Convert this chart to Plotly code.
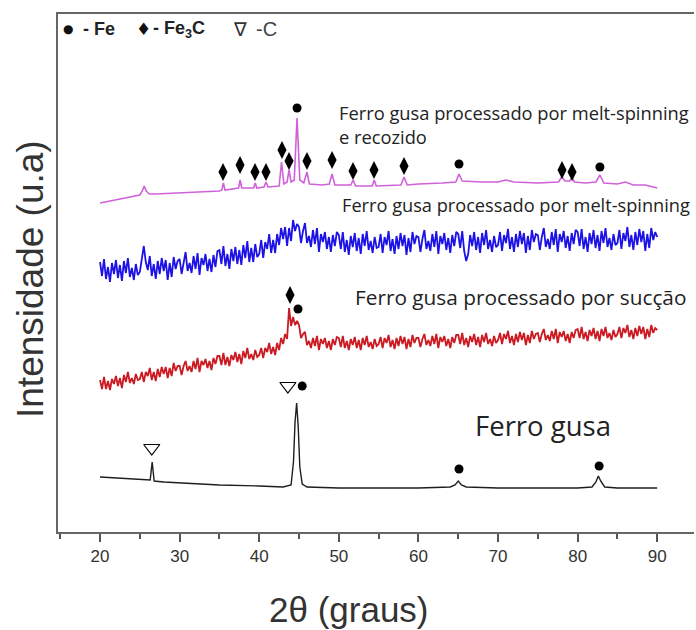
import numpy as np
import plotly.graph_objects as go

# ---------------- data (2θ in degrees, intensity in arbitrary units) ----------------
black_x = [20, 22, 24, 26, 26.3, 26.55, 26.8, 28, 30, 35, 40, 43, 44.0, 44.3, 44.5, 44.7, 44.9, 45.1, 45.4, 46,
           50, 55, 60, 64, 64.6, 65.0, 65.4, 66, 70, 75, 80, 81.8, 82.3, 82.6, 82.9, 83.4, 85, 90]
black_y = [55, 54, 53, 52, 52, 70, 51, 50, 49, 47, 46, 45, 47, 70, 110, 129, 105, 65, 48, 45,
           44, 44, 44, 45, 47, 51, 47, 45, 44, 44, 44, 45, 50, 56, 51, 45, 44, 44]

mag_x = [20, 22, 24, 25, 25.3, 25.55, 25.8, 26.2, 27, 30, 33, 35, 35.3, 35.5, 35.7, 37, 37.4, 37.6, 37.8,
         39.3, 39.5, 39.7, 40.6, 40.85, 41.1, 42.5, 42.8, 43.1, 43.5, 43.75, 44.0, 44.4, 44.75, 45.1,
         45.6, 46.0, 46.3, 48, 48.8, 49.15, 49.5, 51.5, 51.8, 52.1, 54.2, 54.45, 54.7, 57.8, 58.2, 58.6,
         60, 63, 64.7, 65.1, 65.5, 68, 70, 71, 72, 75, 77.6, 78.0, 78.4, 79.0, 79.3, 79.6, 81, 82.3,
         82.8, 83.3, 85, 86, 87, 88.5, 90]
mag_y = [329, 332, 335, 337, 341, 346, 341, 338, 338, 339, 340, 341, 342, 349, 342, 343, 344, 352, 344,
         344, 349, 344, 345, 350, 345, 346, 370, 348, 350, 362, 350, 352, 414, 352,
         349, 360, 348, 347, 348, 358, 347, 347, 352, 346, 346, 352, 346, 347, 355, 347,
         348, 349, 350, 358, 351, 350, 350, 352, 350, 349, 350, 355, 351, 351, 354, 350, 349, 350,
         357, 349, 348, 350, 347, 347, 344]

noisy_x = list(np.round(np.arange(20, 90.001, 0.25), 2))

blue_y = [
    270, 256, 273, 253, 265, 250, 269, 258, 272, 254, 267, 251, 271, 259, 274, 255, 264, 252, 268, 257,
    260, 273, 286, 270, 262, 276, 256, 268, 253, 271, 258, 274, 261, 272, 252, 269, 255, 275, 263, 271,
    273, 258, 271, 280, 261, 269, 259, 276, 263, 279, 257, 274, 267, 278, 261, 273, 260, 277, 265, 281,
    282, 268, 286, 266, 278, 263, 283, 271, 285, 268, 282, 267, 287, 274, 291, 270, 284, 270, 288, 275,
    278, 292, 274, 290, 283, 298, 279, 292, 279, 298, 287, 304, 293, 305, 286, 304, 291, 312, 301, 308,
    305, 289, 301, 309, 289, 296, 285, 302, 288, 304, 280, 298, 290, 300, 283, 295, 280, 297, 286, 300,
    297, 283, 300, 280, 292, 277, 296, 285, 299, 281, 294, 278, 298, 286, 301, 282, 291, 279, 295, 284,
    285, 298, 279, 295, 287, 301, 281, 293, 278, 296, 283, 299, 286, 297, 277, 294, 280, 300, 288, 296,
    295, 280, 293, 302, 283, 291, 281, 298, 285, 301, 278, 296, 288, 299, 282, 294, 279, 297, 286, 300,
    298, 284, 301, 281, 271, 278, 297, 286, 300, 282, 295, 279, 299, 287, 302, 283, 292, 280, 296, 285,
    287, 300, 281, 297, 289, 303, 283, 295, 280, 298, 285, 301, 288, 299, 279, 296, 282, 302, 290, 298,
    297, 282, 295, 304, 285, 293, 283, 300, 287, 303, 280, 298, 290, 301, 284, 296, 281, 299, 288, 302,
    300, 286, 303, 283, 295, 280, 299, 288, 302, 284, 297, 281, 301, 289, 304, 285, 294, 282, 298, 287,
    289, 302, 283, 299, 291, 305, 285, 297, 282, 300, 287, 303, 290, 301, 281, 298, 284, 304, 292, 300,
    295]

red_y = [
    152, 143, 155, 143, 151, 142, 153, 148, 156, 146, 154, 144, 157, 150, 160, 149, 154, 148, 158, 152,
    153, 160, 150, 160, 156, 164, 152, 160, 151, 163, 155, 165, 158, 165, 154, 164, 156, 169, 161, 166,
    166, 157, 166, 171, 161, 166, 160, 171, 163, 174, 160, 171, 167, 173, 164, 171, 162, 174, 168, 176,
    176, 167, 179, 167, 175, 166, 177, 172, 180, 170, 178, 168, 181, 174, 184, 173, 178, 172, 182, 175,
    177, 184, 174, 184, 180, 189, 178, 185, 177, 189, 182, 194, 188, 198, 193, 224, 206, 215, 207, 211,
    207, 194, 198, 200, 187, 191, 184, 194, 186, 196, 182, 193, 188, 194, 184, 191, 182, 193, 187, 195,
    194, 185, 196, 184, 191, 182, 193, 187, 195, 184, 192, 182, 194, 187, 196, 185, 190, 183, 193, 186,
    188, 195, 184, 194, 189, 197, 185, 192, 183, 194, 186, 196, 188, 195, 183, 193, 185, 197, 189, 194,
    194, 185, 193, 198, 187, 192, 186, 196, 188, 198, 184, 195, 190, 196, 186, 193, 184, 195, 189, 197,
    197, 188, 199, 187, 194, 185, 196, 190, 198, 187, 195, 185, 197, 190, 199, 188, 193, 186, 196, 189,
    192, 199, 188, 198, 193, 201, 189, 196, 187, 198, 190, 200, 192, 199, 187, 197, 189, 201, 193, 198,
    199, 190, 198, 203, 192, 197, 191, 201, 193, 203, 189, 200, 195, 201, 191, 198, 189, 200, 194, 202,
    203, 194, 205, 193, 200, 191, 202, 196, 204, 193, 201, 191, 203, 196, 205, 194, 199, 192, 202, 195,
    198, 205, 194, 204, 199, 207, 195, 202, 193, 204, 196, 206, 198, 205, 193, 203, 195, 207, 199, 204,
    202]

# phase markers
fe_x = [45.4, 65.1, 82.7, 44.87, 44.75, 65.1, 82.8]
fe_y = [146, 63, 66, 223, 424, 368, 365]
fe3c_x = [35.45, 37.59, 39.47, 40.85, 42.86, 43.74, 46.0, 49.15, 51.78, 54.42, 58.19, 78.04, 79.30, 43.87]
fe3c_y = [360, 367, 360, 360, 382, 371, 371, 372, 361, 362, 366, 362, 360, 237]
c_x = [26.5, 43.6]
c_y = [84, 146]

x_ticks = [20, 30, 40, 50, 60, 70, 80, 90]

# ---------------- figure ----------------
fig = go.Figure()
fig.add_trace(go.Scatter(x=black_x, y=black_y, mode="lines", line=dict(color="#1e1e1e", width=1.4)))
fig.add_trace(go.Scatter(x=noisy_x, y=red_y, mode="lines", line=dict(color="#cc1a22", width=1.8)))
fig.add_trace(go.Scatter(x=noisy_x, y=blue_y, mode="lines", line=dict(color="#1d12e6", width=1.8)))
fig.add_trace(go.Scatter(x=mag_x, y=mag_y, mode="lines", line=dict(color="#cf62d9", width=1.6)))

fig.add_trace(go.Scatter(x=fe_x, y=fe_y, mode="markers",
                         marker=dict(symbol="circle", size=9, color="black")))
fig.add_trace(go.Scatter(x=fe3c_x, y=fe3c_y, mode="markers",
                         marker=dict(symbol="diamond-tall", size=13, color="black")))
fig.add_trace(go.Scatter(x=c_x, y=c_y, mode="markers",
                         marker=dict(symbol="triangle-down-open", size=14, color="black",
                                     line=dict(width=1.2, color="black"))))

lab_font = "Open Sans, sans-serif"
ann = [
    dict(x=49.77, y=420, text="Ferro gusa processado por melt-spinning", size=18.3),
    dict(x=49.77, y=396, text="e recozido", size=18.3),
    dict(x=50.15, y=327, text="Ferro gusa processado por melt-spinning", size=18.2),
    dict(x=51.8, y=235, text="Ferro gusa processado por sucção", size=20.8),
    dict(x=66.86, y=107, text="Ferro gusa", size=27.5),
]
for a in ann:
    fig.add_annotation(x=a["x"], y=a["y"], xref="x", yref="y", text=a["text"], showarrow=False,
                       xanchor="left", yanchor="middle",
                       font=dict(family=lab_font, size=a["size"], color="#222"))

# phase legend (top-left), positions in pixels from the plot's top-left corner
legend_items = [
    dict(text="●", dx=10, anchor="center", font=dict(family="DejaVu Sans", size=12, color="#111")),
    dict(text="<b>- Fe</b>", dx=23, anchor="left", font=dict(family="Liberation Sans, Arial", size=18, color="#222")),
    dict(text="♦", dx=85, anchor="center", font=dict(family="DejaVu Sans", size=17, color="#111")),
    dict(text="<b>- Fe<sub>3</sub>C</b>", dx=93, anchor="left", font=dict(family="Liberation Sans, Arial", size=18, color="#222")),
    dict(text="∇", dx=182, anchor="center", font=dict(family="DejaVu Sans", size=19, color="#333")),
    dict(text="-C", dx=196, anchor="left", font=dict(family="Liberation Sans, Arial", size=20, color="#444")),
]
for it in legend_items:
    fig.add_annotation(xref="paper", yref="paper", x=0, y=1, xanchor=it["anchor"], yanchor="middle",
                       xshift=it["dx"], yshift=-15, showarrow=False, font=it["font"], text=it["text"])

# axis titles
fig.add_annotation(xref="paper", yref="paper", x=0, y=0.5, xanchor="center", yanchor="middle",
                   xshift=-28, yshift=-6, showarrow=False, textangle=-90, text="Intensidade (u.a)",
                   font=dict(family="Liberation Sans, Arial", size=37, color="#333"))
fig.add_annotation(xref="x", yref="paper", x=51.3, y=0, xanchor="center", yanchor="middle",
                   yshift=-77, showarrow=False, text="2θ (graus)",
                   font=dict(family="Liberation Sans, Arial", size=35, color="#333"))

fig.update_layout(
    width=696, height=630,
    margin=dict(l=58, r=2, t=14, b=98),
    paper_bgcolor="white", plot_bgcolor="white",
    showlegend=False,
    xaxis=dict(range=[14.72, 94.62], tickmode="array", tickvals=x_ticks,
               ticktext=[str(t) for t in x_ticks],
               ticks="outside", ticklen=8, tickwidth=1.5, tickcolor="#555",
               showline=True, linecolor="#666", linewidth=2, mirror=True,
               showgrid=False, zeroline=False,
               tickfont=dict(family="Liberation Sans, Arial", size=17, color="#333"),
               minor=dict(ticks="outside", ticklen=5, tickwidth=1.5, tickcolor="#555",
                          tickmode="array", tickvals=[15, 25, 35, 45, 55, 65, 75, 85], showgrid=False)),
    yaxis=dict(range=[0, 518], showticklabels=False, ticks="",
               showline=True, linecolor="#666", linewidth=2, mirror=False,
               showgrid=False, zeroline=False),
)

# remove the default page margin so the 696x630 figure fills the window exactly
fig.write_html("out.html", config={"displayModeBar": False},
               post_script="document.body.style.margin='0';document.body.style.overflow='hidden';")
